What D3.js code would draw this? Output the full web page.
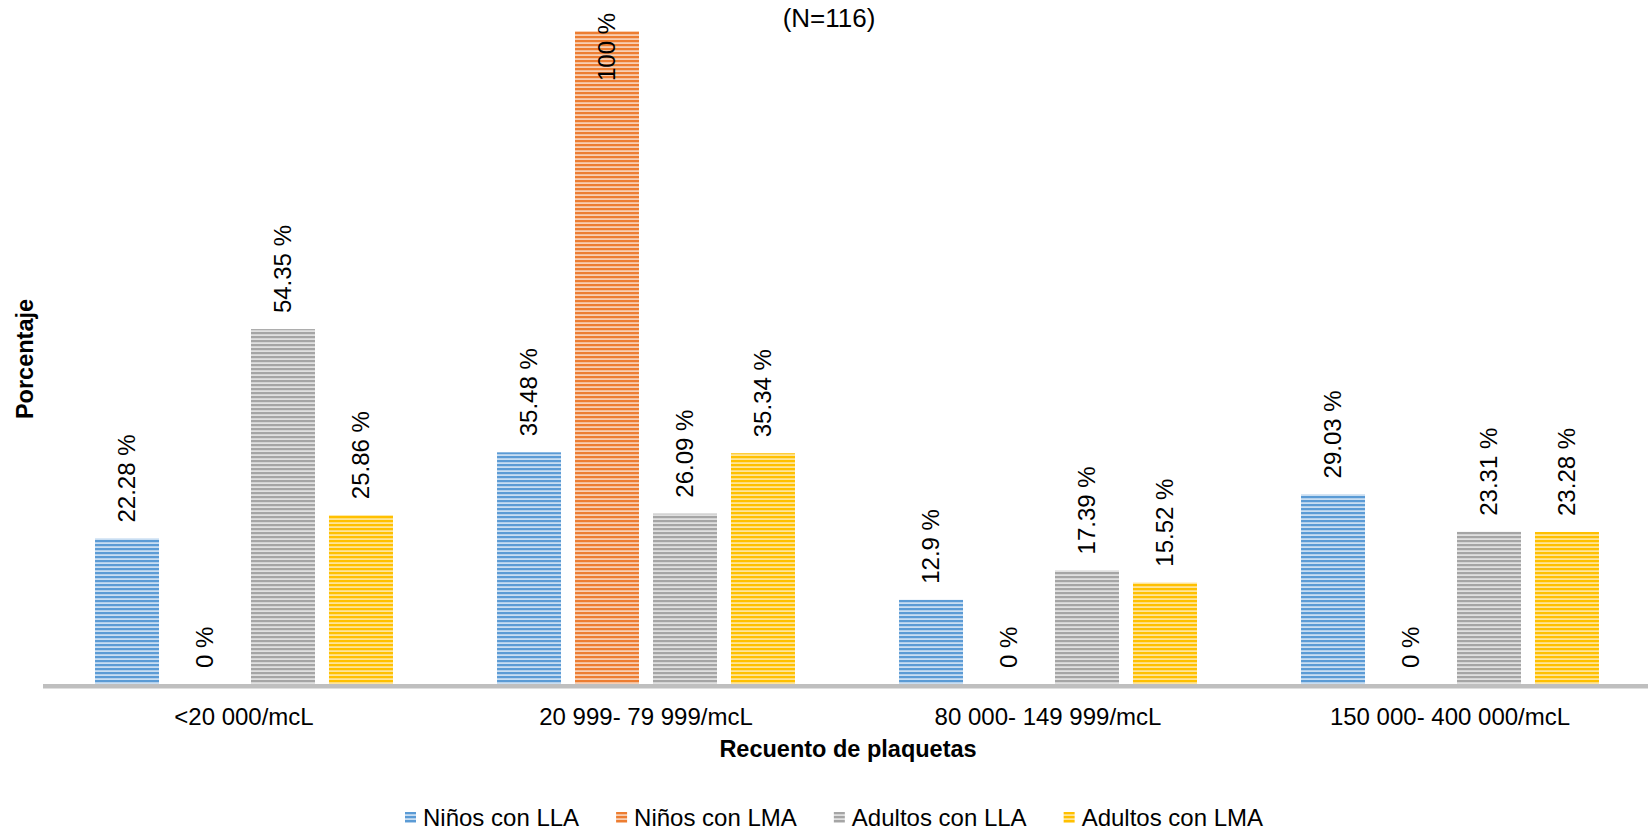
<!DOCTYPE html>
<html>
<head>
<meta charset="utf-8">
<script src="https://cdn.jsdelivr.net/npm/d3@7"></script>
<style>
	body { margin: 0; background: #fff; }
	text { font-family: "Liberation Sans", Arial, sans-serif; fill: #000; }
</style>
</head>
<body>
<div id="chart"></div>
<script>
var categorias= ["<20 000/mcL","20 999- 79 999/mcL","80 000- 149 999/mcL","150 000- 400 000/mcL"];
var series= ["Niños con LLA","Niños con LMA","Adultos con LLA","Adultos con LMA"];

var ninos_lla= [22.28, 35.48, 12.9, 29.03];
var ninos_lma= [0, 100, 0, 0];
var adultos_lla= [54.35, 26.09, 17.39, 23.31];
var adultos_lma= [25.86, 35.34, 15.52, 23.28];

var colores= ["#5B9BD5","#ED7D31","#A5A5A5","#FFC000"];
var colores_claros= ["#c9def2","#f8cfb3","#e0e0e0","#ffe599"];

var valores= [ninos_lla, ninos_lma, adultos_lla, adultos_lma];

var width= 1648, height= 832;

var svg= d3.select("#chart")
	.append("svg")
	.attr("width", width)
	.attr("height", height);

// patrones de rayas horizontales
var defs= svg.append("defs");
for ((i= 0); (i< 4); (i++)) {
	var p= defs.append("pattern")
		.attr("id", "raya"+ i)
		.attr("patternUnits", "userSpaceOnUse")
		.attr("width", 8)
		.attr("height", 4);
	p.append("rect").attr("width", 8).attr("height", 4).attr("fill", colores_claros[i]);
	p.append("rect").attr("y", 0).attr("width", 8).attr("height", 2.2).attr("fill", colores[i]);
}

var x0= d3.scaleBand()
	.domain(categorias)
	.range([43, 1651]);

var x1= d3.scaleBand()
	.domain(series)
	.range([0, x0.bandwidth()])
	.paddingInner(14/78)
	.paddingOuter(0.667);

var y= d3.scaleLinear()
	.domain([0, 100])
	.range([684, 31]);

// barras
for ((s= 0); (s< 4); (s++)) {
	var grupo= svg.append("g");
	grupo.selectAll("rect")
		.data(valores[s])
		.enter()
		.append("rect")
			.attr("x", function(d, k) { return x0(categorias[k])+ x1(series[s]); })
			.attr("y", function(d) { return y(d); })
			.attr("width", x1.bandwidth())
			.attr("height", function(d) { return y(0)- y(d); })
			.attr("fill", "url(#raya"+ s+ ")");

	grupo.selectAll("text")
		.data(valores[s])
		.enter()
		.append("text")
			.attr("font-size", 24)
			.attr("dy", "0.35em")
			.text(function(d) { return d+ " %"; })
			.each(function(d, k) {
				var cx= x0(categorias[k])+ x1(series[s])+ x1.bandwidth()/2;
				var largo= this.getComputedTextLength();
				var pos= y(d)- 16;
				var t= d3.select(this);
				if (pos- largo< 13) {
					t.attr("text-anchor", "end")
						.attr("transform", "translate("+ cx+ ",13) rotate(-90)");
				} else {
					t.attr("text-anchor", "start")
						.attr("transform", "translate("+ cx+ ","+ pos+ ") rotate(-90)");
				}
			});
}

// eje x
svg.append("rect")
	.attr("x", 43)
	.attr("y", 684)
	.attr("width", width- 43)
	.attr("height", 4.5)
	.attr("fill", "#bfbfbf");

svg.selectAll(".cat")
	.data(categorias)
	.enter()
	.append("text")
		.attr("class", "cat")
		.attr("x", function(d) { return x0(d)+ x0.bandwidth()/2; })
		.attr("y", 725)
		.attr("text-anchor", "middle")
		.attr("font-size", 24)
		.text(function(d) { return d; });

// titulos
svg.append("text")
	.attr("x", 848)
	.attr("y", 757)
	.attr("text-anchor", "middle")
	.attr("font-size", 23.5)
	.attr("font-weight", "bold")
	.text("Recuento de plaquetas");

svg.append("text")
	.attr("transform", "translate(33,359) rotate(-90)")
	.attr("text-anchor", "middle")
	.attr("font-size", 23.5)
	.attr("font-weight", "bold")
	.text("Porcentaje");

svg.append("text")
	.attr("x", 829)
	.attr("y", 27)
	.attr("text-anchor", "middle")
	.attr("font-size", 26)
	.text("(N=116)");

// leyenda
var lx= 405;
for ((i= 0); (i< 4); (i++)) {
	svg.append("rect")
		.attr("x", lx)
		.attr("y", 812)
		.attr("width", 11)
		.attr("height", 11)
		.attr("fill", "url(#raya"+ i+ ")");
	var etiqueta= svg.append("text")
		.attr("x", lx+ 18)
		.attr("y", 826)
		.attr("font-size", 24)
		.text(series[i]);
	lx= lx+ 18+ etiqueta.node().getComputedTextLength()+ 37;
}
</script>
</body>
</html>
